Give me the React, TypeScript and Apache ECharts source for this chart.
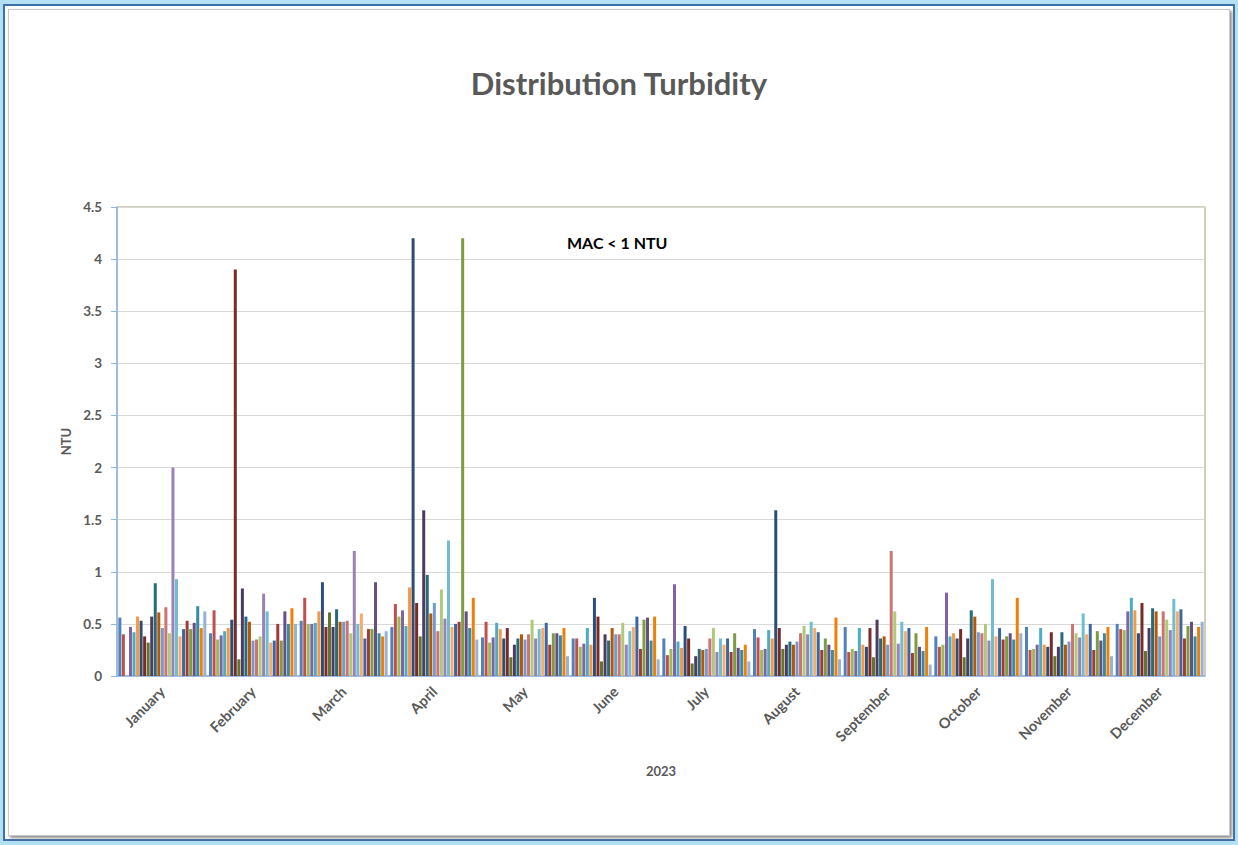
import React, { useEffect, useRef } from "react";
import * as echarts from "echarts";

const months = ["January", "February", "March", "April", "May", "June", "July", "August", "September", "October", "November", "December"];

// values for the 25 sampling series, per month (null = no sample)
const jan = [0.56, 0.40, null, 0.47, 0.42, 0.57, 0.53, 0.38, 0.32, 0.57, 0.89, 0.61, 0.46, 0.66, 0.41, 2.0, 0.93, 0.38, 0.45, 0.53, 0.45, 0.51, 0.67, 0.46, 0.62];
const feb = [0.41, 0.63, 0.35, 0.39, 0.43, 0.46, 0.54, 3.9, 0.16, 0.84, 0.57, 0.52, 0.34, 0.35, 0.38, 0.79, 0.62, 0.32, 0.34, 0.50, 0.34, 0.62, 0.50, 0.65, 0.50];
const mar = [0.53, 0.75, 0.50, 0.50, 0.51, 0.62, 0.90, 0.47, 0.61, 0.47, 0.64, 0.52, 0.52, 0.53, 0.41, 1.2, 0.50, 0.60, 0.36, 0.45, 0.45, 0.90, 0.41, 0.38, 0.43];
const apr = [0.47, 0.69, 0.57, 0.63, 0.48, 0.85, 4.2, 0.70, 0.38, 1.59, 0.97, 0.60, 0.70, 0.43, 0.83, 0.55, 1.3, 0.47, 0.50, 0.52, 4.2, 0.62, 0.46, 0.75, 0.35];
const may = [0.37, 0.52, 0.32, 0.37, 0.51, 0.45, 0.36, 0.46, 0.18, 0.30, 0.36, 0.40, 0.35, 0.40, 0.54, 0.36, 0.45, 0.46, 0.51, 0.30, 0.41, 0.41, 0.39, 0.46, 0.19];
const jun = [0.36, 0.36, 0.28, 0.31, 0.46, 0.30, 0.75, 0.57, 0.14, 0.40, 0.34, 0.46, 0.40, 0.40, 0.51, 0.30, 0.43, 0.47, 0.57, 0.26, 0.54, 0.56, 0.34, 0.57, 0.16];
const jul = [0.36, 0.20, 0.26, 0.88, 0.33, 0.27, 0.48, 0.36, 0.12, 0.19, 0.26, 0.25, 0.26, 0.36, 0.46, 0.23, 0.36, 0.30, 0.36, 0.23, 0.41, 0.27, 0.25, 0.30, 0.14];
const aug = [0.45, 0.37, 0.25, 0.26, 0.44, 0.36, 1.59, 0.46, 0.26, 0.30, 0.33, 0.30, 0.33, 0.41, 0.48, 0.40, 0.52, 0.46, 0.42, 0.25, 0.36, 0.30, 0.25, 0.56, 0.16];
const sep = [0.47, 0.23, 0.26, 0.24, 0.46, 0.30, 0.28, 0.46, 0.18, 0.54, 0.36, 0.38, 0.30, 1.2, 0.62, 0.31, 0.52, 0.43, 0.46, 0.22, 0.41, 0.28, 0.24, 0.47, 0.11];
const oct = [0.38, 0.28, 0.30, 0.80, 0.38, 0.41, 0.36, 0.45, 0.18, 0.36, 0.63, 0.57, 0.42, 0.41, 0.50, 0.34, 0.93, 0.38, 0.46, 0.35, 0.38, 0.41, 0.35, 0.75, 0.41];
const nov = [0.47, 0.25, 0.26, 0.30, 0.46, 0.30, 0.28, 0.42, 0.19, 0.28, 0.42, 0.30, 0.33, 0.50, 0.41, 0.37, 0.60, 0.40, 0.50, 0.25, 0.43, 0.34, 0.41, 0.47, 0.19];
const dec = [0.50, 0.45, 0.44, 0.62, 0.75, 0.63, 0.41, 0.70, 0.24, 0.46, 0.65, 0.62, 0.38, 0.62, 0.54, 0.44, 0.74, 0.62, 0.64, 0.36, 0.48, 0.52, 0.38, 0.47, 0.52];

const monthValues = [jan, feb, mar, apr, may, jun, jul, aug, sep, oct, nov, dec];

const seriesColors = [
  "#4F81BD", "#C0504D", "#9BBB59", "#8064A2", "#4BACC6", "#F79646",
  "#2C4D75", "#772C2A", "#5F7530", "#4D3B62", "#276A7C", "#B65708",
  "#729ACA", "#CD7371", "#AFC97A", "#9983B5", "#6FBDD1", "#F9AB6B",
  "#3A679C", "#9F3B38", "#7E9C40", "#664F82", "#358CA3", "#F07F09",
  "#95B3D7",
];

const yTicks = { min: 0, max: 4.5, interval: 0.5 };

const FONT = "Lato, 'Open Sans', sans-serif";

export default function App() {
  const ref = useRef<HTMLDivElement>(null);

  useEffect(() => {
    if (!ref.current) return;
    const chart = echarts.init(ref.current, null, { renderer: "svg" });
    const series = seriesColors.map((color, i) => ({
      type: "bar",
      name: "Series " + (i + 1),
      data: monthValues.map((m) => m[i]),
      barWidth: 3,
      barGap: "18%",
      itemStyle: { color },
    }));
    chart.setOption({
      animation: false,
      title: {
        text: "Distribution Turbidity",
        left: "center",
        top: 62,
        textStyle: { fontFamily: FONT, fontSize: 31, fontWeight: "bold", color: "#595959" },
      },
      grid: {
        left: 117,
        right: 33,
        top: 207,
        bottom: 169,
        show: true,
        borderColor: "#A39E73",
        borderWidth: 1,
        backgroundColor: "transparent",
      },
      xAxis: {
        type: "category",
        data: months,
        axisLine: { lineStyle: { color: "#8EB4E3", width: 1.5 } },
        axisTick: { show: false },
        axisLabel: {
          rotate: 45,
          interval: 0,
          margin: 13,
          fontFamily: FONT,
          fontWeight: "bold",
          fontSize: 14.5,
          color: "#595959",
        },
        name: "2023",
        nameLocation: "middle",
        nameGap: 88,
        nameTextStyle: { fontFamily: FONT, fontWeight: "bold", fontSize: 13, color: "#595959" },
      },
      yAxis: {
        type: "value",
        min: yTicks.min,
        max: yTicks.max,
        interval: yTicks.interval,
        axisLine: { show: true, lineStyle: { color: "#8EB4E3", width: 1.5 } },
        axisTick: { show: true, length: 6, lineStyle: { color: "#8EB4E3" } },
        axisLabel: {
          margin: 15,
          fontFamily: FONT,
          fontWeight: "bold",
          fontSize: 13.5,
          color: "#595959",
        },
        splitLine: { lineStyle: { color: "#D9D9D9" } },
        name: "NTU",
        nameLocation: "middle",
        nameGap: 39,
        nameTextStyle: { fontFamily: FONT, fontWeight: "bold", fontSize: 13, color: "#595959" },
      },
      graphic: [
        {
          type: "text",
          left: 567,
          top: 234,
          style: { text: "MAC < 1 NTU", font: "bold 16px Lato, sans-serif", fill: "#000000" },
        },
      ],
      series,
    });
    return () => chart.dispose();
  }, []);

  return (
    <div style={{ position: "absolute", left: 0, top: 0, width: 1238, height: 845, background: "#B3E1F3", overflow: "hidden" }}>
      <div
        style={{
          position: "absolute",
          left: 3,
          top: 4,
          right: 3,
          bottom: 4,
          border: "2px solid #3D6FA8",
          background: "#FFFFFF",
        }}
      >
        <div
          style={{
            position: "absolute",
            left: 3,
            top: 3,
            right: 3,
            bottom: 3,
            border: "1px solid #C8C8C8",
            boxShadow: "2px 2px 3px #8A8A8A",
          }}
        />
      </div>
      <div ref={ref} style={{ position: "absolute", left: 0, top: 0, width: 1238, height: 845 }} />
    </div>
  );
}
